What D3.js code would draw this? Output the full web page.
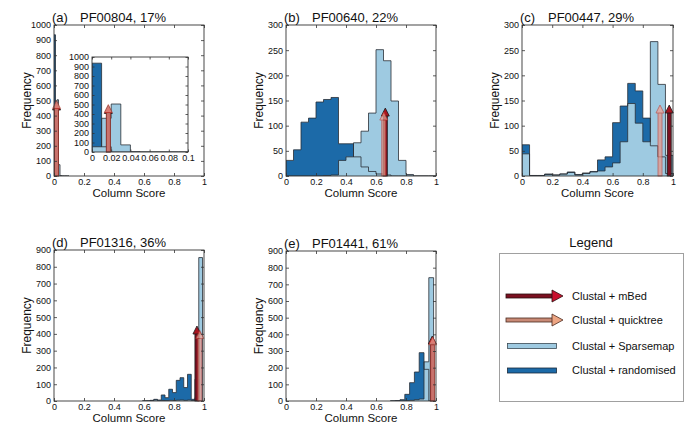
<!DOCTYPE html>
<html><head><meta charset="utf-8">
<script src="https://cdn.jsdelivr.net/npm/d3@7"></script>
<style>
body{margin:0;background:#fff;}
svg text{font-family:"Liberation Sans", Arial, Helvetica, sans-serif; fill:#111;}
</style></head>
<body><svg id="chart" width="685" height="440"></svg>
<script>
// ---------------- DATA ----------------
const panelLetters = ["(a)", "(b)", "(c)", "(d)", "(e)"];
const panelNames = ["PF00804, 17%", "PF00640, 22%", "PF00447, 29%", "PF01316, 36%", "PF01441, 61%"];
const yMaxes = [1000, 300, 300, 900, 900];
const yTickSteps = [100, 50, 50, 100, 100];
const xTickValues = [0, 0.2, 0.4, 0.6, 0.8, 1];
const insetXTicks = [0, 0.02, 0.04, 0.06, 0.08, 0.1];
const binWidths = [0.01, 0.05, 0.05, 0.025, 0.032];

// bin centres
const centersA = [0.005, 0.015, 0.025, 0.035, 0.045, 0.055, 0.065, 0.075, 0.085, 0.095];
const centersB = [0.025, 0.075, 0.125, 0.175, 0.225, 0.275, 0.325, 0.375, 0.425, 0.475, 0.525, 0.575, 0.625, 0.675, 0.725, 0.775, 0.825, 0.875, 0.925, 0.975];
const centersC = centersB;
const centersD = [0.6025, 0.6275, 0.6525, 0.6775, 0.7025, 0.7275, 0.7525, 0.7775, 0.8025, 0.8275, 0.8525, 0.8775, 0.9025, 0.9275, 0.9525, 0.9775];
const centersE = [0.712, 0.744, 0.776, 0.808, 0.84, 0.872, 0.904, 0.936, 0.968];

// Clustal + randomised (dark) and Clustal + Sparsemap (light) counts
const randomisedA = [935, 55, 0, 0, 0, 0, 0, 0, 0, 0];
const sparsemapA  = [55, 355, 505, 75, 3, 0, 0, 0, 0, 0];
const randomisedB = [31, 52, 107, 115, 147, 152, 156, 64, 64, 38, 18, 9, 4, 2, 0, 0, 0, 0, 0, 0];
const sparsemapB  = [0, 0, 0, 0, 0, 1, 2, 31, 38, 66, 89, 125, 251, 229, 149, 31, 3, 0, 0, 0];
const randomisedC = [62, 1, 1, 4, 2, 4, 8, 3, 6, 9, 32, 38, 106, 139, 184, 169, 115, 60, 38, 5];
const sparsemapC  = [44, 1, 1, 3, 2, 4, 7, 2, 5, 8, 10, 18, 26, 68, 144, 105, 68, 267, 182, 41];
const randomisedD = [1, 2, 4, 10, 6, 36, 20, 70, 50, 123, 139, 80, 159, 10, 130, 0];
const sparsemapD  = [0, 0, 2, 6, 1, 3, 2, 4, 3, 5, 6, 4, 6, 3, 20, 855];
const randomisedE = [1, 3, 8, 40, 110, 174, 290, 190, 0];
const sparsemapE  = [0, 0, 1, 2, 4, 8, 12, 235, 740];

// arrows: column score of the guide tree and arrow height
const mbedScores   = [0.017, 0.662, 0.975, 0.953, 0.975];
const mbedHeights  = [490, 135, 141, 447, 390];
const quickScores  = [0.017, 0.652, 0.914, 0.972, 0.978];
const quickHeights = [500, 127, 141, 420, 385];

const legendLabels = ["Clustal + mBed", "Clustal + quicktree", "Clustal + Sparsemap", "Clustal + randomised"];

// ---------------- STYLE / LAYOUT ----------------
const DARK = "#1c6aa8", LIGHT = "#9ecae1", EDGE = "#2a2f36";
const MBED_SHAFT = "#7a1020", MBED_HEAD = "#a8141f";
const QT_SHAFT = "#e8988a", QT_HEAD = "#f2a394";
const boxes = [
  {l: 54, t: 25, w: 150, h: 151},
  {l: 286, t: 25, w: 150, h: 151},
  {l: 522, t: 25, w: 151, h: 151},
  {l: 54, t: 250, w: 150, h: 151},
  {l: 286, t: 251, w: 150, h: 150}
];
const centersAll = [centersA, centersB, centersC, centersD, centersE];
const randAll = [randomisedA, randomisedB, randomisedC, randomisedD, randomisedE];
const sparseAll = [sparsemapA, sparsemapB, sparsemapC, sparsemapD, sparsemapE];

const svg = d3.select("#chart");
const fmt = d3.format("~g");

function stairs(centers, vals, w) {
  const pts = [[centers[0] - w / 2, 0]];
  centers.forEach((c, i) => { pts.push([c - w / 2, vals[i]]); pts.push([c + w / 2, vals[i]]); });
  pts.push([centers[centers.length - 1] + w / 2, 0]);
  return pts;
}

function drawAxes(g, x, y, w, h, xt, yt, fs, tl) {
  const styleAxis = sel => {
    sel.select(".domain").remove();
    sel.selectAll(".tick line").attr("stroke", "#333").attr("stroke-width", 0.8);
    sel.selectAll("text").attr("font-size", fs).attr("font-family", '"Liberation Sans", Arial, sans-serif').attr("fill", "#111");
    sel.attr("font-family", null).attr("font-size", null);
  };
  g.append("g").attr("transform", `translate(0,${h})`)
    .call(d3.axisBottom(x).tickValues(xt).tickFormat(fmt).tickSizeInner(-tl).tickSizeOuter(0).tickPadding(3)).call(styleAxis);
  g.append("g")
    .call(d3.axisTop(x).tickValues(xt).tickFormat("").tickSizeInner(-tl).tickSizeOuter(0)).call(styleAxis);
  g.append("g")
    .call(d3.axisLeft(y).tickValues(yt).tickFormat(fmt).tickSizeInner(-tl).tickSizeOuter(0).tickPadding(3)).call(styleAxis);
  g.append("g").attr("transform", `translate(${w},0)`)
    .call(d3.axisRight(y).tickValues(yt).tickFormat("").tickSizeInner(-tl).tickSizeOuter(0)).call(styleAxis);
  g.append("rect").attr("x", 0).attr("y", 0).attr("width", w).attr("height", h)
    .attr("fill", "none").attr("stroke", "#333").attr("stroke-width", 0.9);
}

function drawHist(g, x, y, centers, rand, sparse, bw, clipId) {
  const line = d3.line().x(d => x(d[0])).y(d => y(d[1]));
  const r = stairs(centers, rand, bw), s = stairs(centers, sparse, bw);
  const hg = g.append("g").attr("clip-path", `url(#${clipId})`);
  hg.append("path").attr("d", line(r) + "Z").attr("fill", DARK).attr("stroke", "none");
  hg.append("path").attr("d", line(s) + "Z").attr("fill", LIGHT).attr("stroke", "none");
  hg.append("path").attr("d", line(r)).attr("fill", "none").attr("stroke", EDGE).attr("stroke-width", 0.8);
  hg.append("path").attr("d", line(s)).attr("fill", "none").attr("stroke", EDGE).attr("stroke-width", 0.8);
}

function vArrow(g, px, y0, y1, shaftFill, headFill, stroke, opacity) {
  const sw = 4, hw = 8, hl = 8;
  const a = g.append("g").attr("opacity", opacity);
  a.append("rect").attr("x", px - sw / 2).attr("y", y1 + hl - 0.5).attr("width", sw).attr("height", Math.max(0, y0 - y1 - hl + 0.5))
    .attr("fill", shaftFill).attr("stroke", stroke).attr("stroke-width", 0.8);
  a.append("path").attr("d", `M${px - hw / 2},${y1 + hl}L${px},${y1}L${px + hw / 2},${y1 + hl}Z`)
    .attr("fill", headFill).attr("stroke", stroke).attr("stroke-width", 0.8);
}

function drawArrows(g, x, y, i) {
  vArrow(g, x(mbedScores[i]), y(0), y(mbedHeights[i]), MBED_SHAFT, MBED_HEAD, "#1a1a1a", 1);
  vArrow(g, x(quickScores[i]), y(0), y(quickHeights[i]), QT_SHAFT, QT_HEAD, "#c0392f", 0.72);
}

const defs = svg.append("defs");

boxes.forEach((b, i) => {
  const g = svg.append("g").attr("transform", `translate(${b.l},${b.t})`);
  const x = d3.scaleLinear().domain([0, 1]).range([0, b.w]);
  const y = d3.scaleLinear().domain([0, yMaxes[i]]).range([b.h, 0]);
  const yt = d3.range(0, yMaxes[i] + 1, yTickSteps[i]);
  const clipId = "clip" + i;
  defs.append("clipPath").attr("id", clipId).append("rect").attr("width", b.w).attr("height", b.h);

  drawHist(g, x, y, centersAll[i], randAll[i], sparseAll[i], binWidths[i], clipId);
  drawArrows(g, x, y, i);
  drawAxes(g, x, y, b.w, b.h, xTickValues, yt, 9, 3);

  // titles
  g.append("text").attr("x", -2).attr("y", -3).attr("font-size", 13).text(panelLetters[i]);
  g.append("text").attr("x", 26).attr("y", -3).attr("font-size", 13).text(panelNames[i]);
  g.append("text").attr("x", b.w / 2).attr("y", b.h + 21).attr("text-anchor", "middle").attr("font-size", 11.5).text("Column Score");
  g.append("text").attr("transform", `translate(-27,${b.h / 2}) rotate(-90)`).attr("text-anchor", "middle")
    .attr("dy", "0.35em").attr("font-size", 12).text("Frequency");

  if (i === 0) {
    // inset zoom of panel (a)
    const ib = {l: 92 - b.l, t: 57 - b.t, w: 96, h: 95};
    const ig = g.append("g").attr("transform", `translate(${ib.l},${ib.t})`);
    ig.append("rect").attr("width", ib.w).attr("height", ib.h).attr("fill", "#fff");
    const ix = d3.scaleLinear().domain([0, 0.1]).range([0, ib.w]);
    const iy = d3.scaleLinear().domain([0, 1000]).range([ib.h, 0]);
    defs.append("clipPath").attr("id", "clipInset").append("rect").attr("width", ib.w).attr("height", ib.h);
    drawHist(ig, ix, iy, centersA, randomisedA, sparsemapA, binWidths[0], "clipInset");
    drawArrows(ig, ix, iy, 0);
    drawAxes(ig, ix, iy, ib.w, ib.h, insetXTicks, d3.range(0, 1001, 100), 9, 2.5);
  }
});

// ---------------- LEGEND ----------------
const lg = svg.append("g");
lg.append("text").attr("x", 591).attr("y", 247).attr("text-anchor", "middle").attr("font-size", 13).text("Legend");
lg.append("rect").attr("x", 499.5).attr("y", 253.5).attr("width", 184).attr("height", 148)
  .attr("fill", "none").attr("stroke", "#a0a0a0").attr("stroke-width", 1);
const legY = [296, 320, 346, 370.5];
function hArrow(yc, shaftFill, headFill, stroke) {
  lg.append("rect").attr("x", 506).attr("y", yc - 2).attr("width", 47).attr("height", 4)
    .attr("fill", shaftFill).attr("stroke", stroke).attr("stroke-width", 0.8);
  lg.append("path").attr("d", `M552,${yc - 6}L563,${yc}L552,${yc + 6}Z`)
    .attr("fill", headFill).attr("stroke", stroke).attr("stroke-width", 0.8);
}
hArrow(legY[0], MBED_SHAFT, "#c8102e", "#2a1010");
hArrow(legY[1], "#c98a76", "#eda583", "#4a2a20");
lg.append("rect").attr("x", 507.5).attr("y", legY[2] - 2.5).attr("width", 49).attr("height", 5)
  .attr("fill", LIGHT).attr("stroke", "#3a4a55").attr("stroke-width", 0.8);
lg.append("rect").attr("x", 507.5).attr("y", legY[3] - 2.5).attr("width", 49).attr("height", 5)
  .attr("fill", DARK).attr("stroke", "#1a2a3a").attr("stroke-width", 0.8);
legendLabels.forEach((t, k) => {
  lg.append("text").attr("x", 572).attr("y", legY[k]).attr("dy", "0.35em").attr("font-size", 11).text(t);
});
</script>
</body></html>
